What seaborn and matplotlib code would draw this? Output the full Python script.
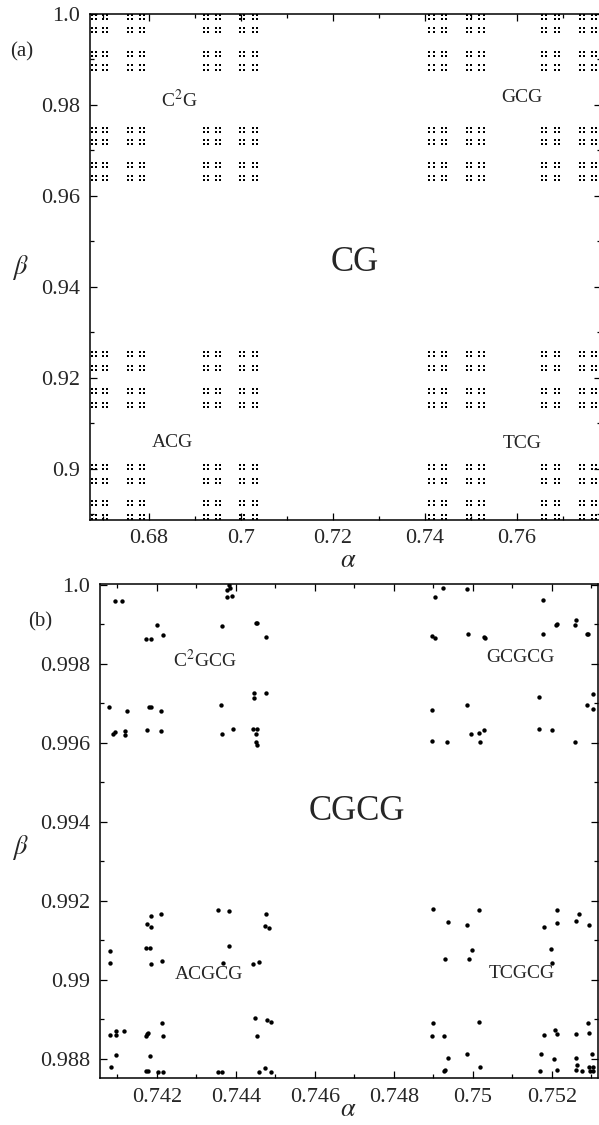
import numpy as np
import pandas as pd
import matplotlib
matplotlib.use("Agg")
import matplotlib.pyplot as plt
from matplotlib.ticker import MultipleLocator, FuncFormatter
import seaborn as sns

# panel (a): columns / rows of the tiny dots
a_cols = [0.6676, 0.6685, 0.6700, 0.6709, 0.6754, 0.6763, 0.6781, 0.6790,
          0.6919, 0.6928, 0.6946, 0.6955, 0.6998, 0.7007, 0.7026, 0.7035,
          0.7409, 0.7419, 0.7437, 0.7446, 0.7491, 0.7501, 0.7518, 0.7528,
          0.7654, 0.7663, 0.7683, 0.7692, 0.7737, 0.7746, 0.7763, 0.7772]
a_rows = [0.9997, 0.9988, 0.9969, 0.9961, 0.9917, 0.9907, 0.9887, 0.9878,
          0.9749, 0.9741, 0.9723, 0.9715, 0.9672, 0.9664, 0.9644, 0.9636,
          0.9257, 0.9249, 0.9226, 0.9218, 0.9175, 0.9167, 0.9145, 0.9137,
          0.9008, 0.9000, 0.8978, 0.8970, 0.8929, 0.8921, 0.8898, 0.8890]

# panel (b): individual points
b_x = [0.74094, 0.74111, 0.74172, 0.74184, 0.74199, 0.74214,
       0.74078, 0.74123, 0.74179, 0.74184, 0.74210,
       0.74089, 0.74094, 0.74119, 0.74119, 0.74174, 0.74210,
       0.74376, 0.74376, 0.74383, 0.74386, 0.74391, 0.74365, 0.74451, 0.74454, 0.74475,
       0.74361, 0.74446, 0.74446, 0.74475,
       0.74365, 0.74392, 0.74442, 0.74451, 0.74454, 0.74451, 0.74453,
       0.74904, 0.74925, 0.74984, 0.75176,
       0.74895, 0.74904, 0.74988, 0.75028, 0.75030, 0.75178, 0.75210, 0.75212,
       0.75258, 0.75262, 0.75289, 0.75292,
       0.75168, 0.75303, 0.74895, 0.74984, 0.75289, 0.75303,
       0.75168, 0.75199, 0.74995, 0.75015, 0.75029, 0.74895, 0.74935, 0.75018, 0.75259,
       0.74081, 0.74081, 0.74174, 0.74185, 0.74185, 0.74210, 0.74172, 0.74182, 0.74184, 0.74212,
       0.74355, 0.74383, 0.74366, 0.74383, 0.74442, 0.74457, 0.74475, 0.74473, 0.74483,
       0.74081, 0.74095, 0.74095, 0.74116, 0.74095, 0.74083, 0.74172, 0.74174, 0.74178,
       0.74182, 0.74212, 0.74216, 0.74172, 0.74176, 0.74203, 0.74214, 0.74354, 0.74364,
       0.74447, 0.74454, 0.74478, 0.74488, 0.74457, 0.74474, 0.74488,
       0.74900, 0.75016, 0.74936, 0.74986, 0.75180, 0.75212, 0.75212, 0.75262, 0.75269, 0.75293,
       0.74997, 0.74928, 0.74989, 0.75197, 0.75199,
       0.74900, 0.75016, 0.74896, 0.74926, 0.75179, 0.75208, 0.75213, 0.75260, 0.75290, 0.75293,
       0.74938, 0.74986, 0.75173, 0.75204, 0.75301, 0.75262, 0.75018, 0.74927, 0.74928,
       0.75170, 0.75212, 0.75263, 0.75262, 0.75276, 0.75293, 0.75305, 0.75295, 0.75305]
b_y = [0.99959, 0.99959, 0.99863, 0.99864, 0.99898, 0.99874,
       0.99691, 0.99680, 0.99692, 0.99691, 0.99681,
       0.99622, 0.99627, 0.99630, 0.99619, 0.99633, 0.99630,
       0.99987, 0.99970, 0.99999, 0.99992, 0.99972, 0.99897, 0.99905, 0.99905, 0.99868,
       0.99695, 0.99726, 0.99713, 0.99727,
       0.99622, 0.99635, 0.99635, 0.99622, 0.99635, 0.99603, 0.99595,
       0.99969, 0.99992, 0.99989, 0.99962,
       0.99872, 0.99866, 0.99876, 0.99869, 0.99866, 0.99877, 0.99899, 0.99900,
       0.99899, 0.99911, 0.99877, 0.99877,
       0.99716, 0.99725, 0.99684, 0.99695, 0.99695, 0.99687,
       0.99635, 0.99632, 0.99622, 0.99625, 0.99632, 0.99604, 0.99602, 0.99603, 0.99603,
       0.99074, 0.99044, 0.99141, 0.99163, 0.99134, 0.99167, 0.99080, 0.99082, 0.99040, 0.99049,
       0.99177, 0.99174, 0.99044, 0.99086, 0.99040, 0.99045, 0.99166, 0.99137, 0.99132,
       0.98860, 0.98871, 0.98860, 0.98871, 0.98809, 0.98779, 0.98857, 0.98863, 0.98867,
       0.98807, 0.98890, 0.98857, 0.98770, 0.98770, 0.98766, 0.98766, 0.98768, 0.98768,
       0.98903, 0.98859, 0.98899, 0.98893, 0.98768, 0.98776, 0.98767,
       0.99179, 0.99176, 0.99146, 0.99138, 0.99135, 0.99177, 0.99145, 0.99149, 0.99166, 0.99139,
       0.99076, 0.99054, 0.99052, 0.99078, 0.99044,
       0.98890, 0.98894, 0.98859, 0.98859, 0.98862, 0.98873, 0.98863, 0.98864, 0.98890, 0.98865,
       0.98803, 0.98813, 0.98813, 0.98799, 0.98813, 0.98802, 0.98780, 0.98770, 0.98772,
       0.98770, 0.98771, 0.98784, 0.98771, 0.98770, 0.98781, 0.98781, 0.98770, 0.98770]

a_labels = ["C$^2$G", "GCG", "CG", "ACG", "TCG"]
b_labels = ["C$^2$GCG", "GCGCG", "CGCG", "ACGCG", "TCGCG"]

sns.set_style("ticks")
plt.rcParams["font.family"] = ["Liberation Serif", "DejaVu Serif"]
plt.rcParams["mathtext.fontset"] = "stix"

W, H = 599, 1125
fig = plt.figure(figsize=(W / 100, H / 100), dpi=100)


def px_axes(l, t, r, b):
    return fig.add_axes([l / W, 1 - b / H, (r - l) / W, (b - t) / H])


def fmt(v, pos):
    s = f"{v:.3f}".rstrip("0")
    return s + "0" if s.endswith(".") else s


def style(ax, major_x, major_y):
    ax.xaxis.set_major_locator(MultipleLocator(major_x))
    ax.xaxis.set_minor_locator(MultipleLocator(major_x / 2))
    ax.yaxis.set_major_locator(MultipleLocator(major_y))
    ax.yaxis.set_minor_locator(MultipleLocator(major_y / 2))
    ax.xaxis.set_major_formatter(FuncFormatter(fmt))
    ax.yaxis.set_major_formatter(FuncFormatter(fmt))
    ax.tick_params(which="both", direction="in", top=True, right=True,
                   labelsize=16, pad=7, width=0.9, color="black")
    ax.tick_params(which="major", length=5)
    ax.tick_params(which="minor", length=3)
    for s in ax.spines.values():
        s.set_linewidth(1.1)
        s.set_color("black")
    ax.set_xlabel("")
    ax.set_ylabel("")


# ---- panel (a)
ax1 = px_axes(90, 14, 601, 519.5)
gx, gy = np.meshgrid(a_cols, a_rows)
df_a = pd.DataFrame({"alpha": gx.ravel(), "beta": gy.ravel()})
sns.scatterplot(data=df_a, x="alpha", y="beta", ax=ax1, marker="s", s=4.3,
                color="black", linewidth=0, legend=False)
ax1.set_xlim(0.66717, 0.77826)
ax1.set_ylim(0.8889, 1.0)
style(ax1, 0.02, 0.02)
ax1.text(0.68663, 0.98110, a_labels[0], fontsize=14, ha="center", va="center")
ax1.text(0.76109, 0.98154, a_labels[1], fontsize=14, ha="center", va="center")
ax1.text(0.72478, 0.94549, a_labels[2], fontsize=25, ha="center", va="center")
ax1.text(0.68500, 0.90593, a_labels[3], fontsize=14, ha="center", va="center")
ax1.text(0.76109, 0.90571, a_labels[4], fontsize=14, ha="center", va="center")
fig.text(22 / W, 1 - 52 / H, "(a)", fontsize=15, ha="center", va="center")
fig.text(348 / W, 1 - 561 / H, r"$\alpha$", fontsize=19, ha="center", va="center")
fig.text(20 / W, 1 - 268 / H, r"$\beta$", fontsize=19, ha="center", va="center")

# ---- panel (b)
ax2 = px_axes(100, 584, 598, 1078)
df_b = pd.DataFrame({"alpha": b_x, "beta": b_y})
sns.scatterplot(data=df_b, x="alpha", y="beta", ax=ax2, marker="o", s=10,
                color="black", linewidth=0, legend=False)
ax2.set_xlim(0.740557, 0.753165)
ax2.set_ylim(0.987519, 1.000025)
style(ax2, 0.002, 0.002)
ax2.text(0.74322, 0.99810, b_labels[0], fontsize=14, ha="center", va="center")
ax2.text(0.75121, 0.99817, b_labels[1], fontsize=14, ha="center", va="center")
ax2.text(0.74706, 0.99426, b_labels[2], fontsize=25, ha="center", va="center")
ax2.text(0.74332, 0.99013, b_labels[3], fontsize=14, ha="center", va="center")
ax2.text(0.75123, 0.99017, b_labels[4], fontsize=14, ha="center", va="center")
fig.text(40 / W, 1 - 622 / H, "(b)", fontsize=15, ha="center", va="center")
fig.text(348 / W, 1 - 1110 / H, r"$\alpha$", fontsize=19, ha="center", va="center")
fig.text(20 / W, 1 - 848 / H, r"$\beta$", fontsize=19, ha="center", va="center")

fig.savefig("out.png", dpi=100)
